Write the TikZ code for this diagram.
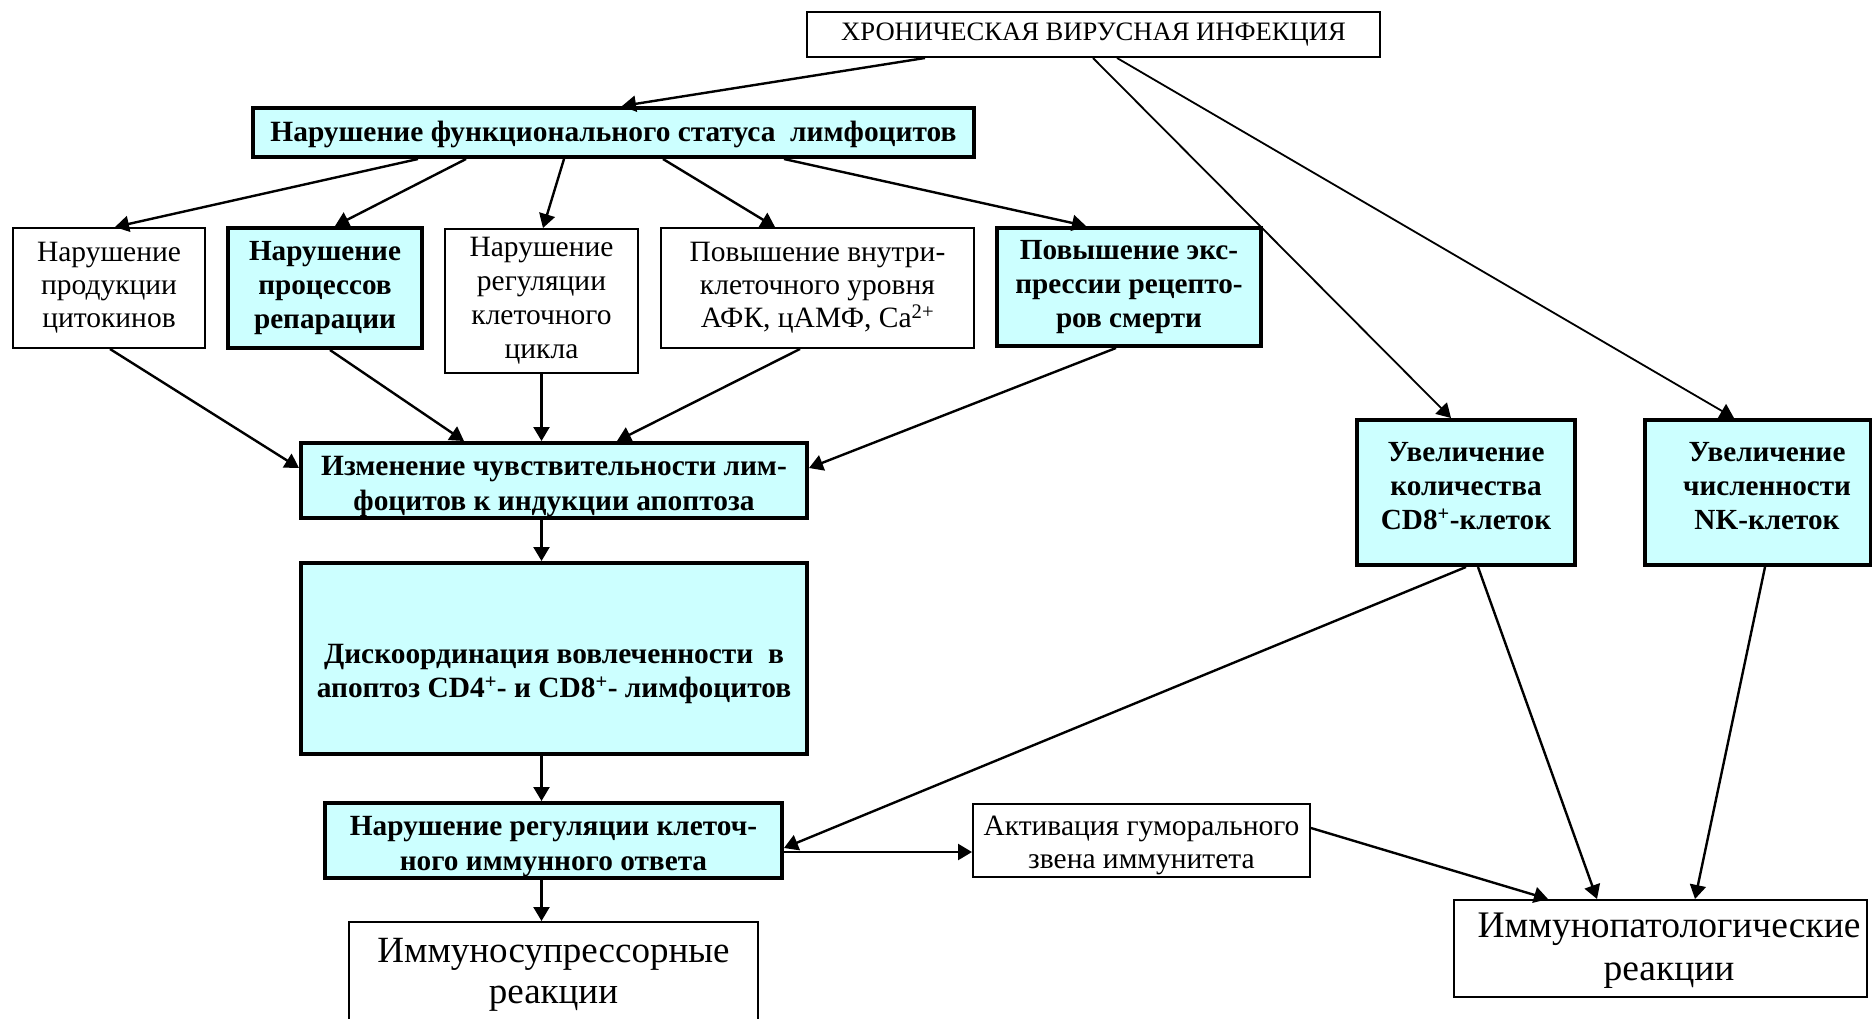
\documentclass[tikz,border=0pt]{standalone}
\usepackage{fontspec}
\setmainfont{Liberation Serif}
\usetikzlibrary{arrows.meta}
\definecolor{cyanbox}{HTML}{CCFFFF}
\tikzset{
  box/.style={draw, line width=2pt, fill=white, align=center, inner sep=0pt},
  boldbox/.style={box, line width=4pt, fill=cyanbox, font=\bfseries},
  arr/.style={-{Triangle[length=14pt,width=16pt]}, line width=2.4pt},
  longarr/.style={arr, line width=1.8pt},
  plain/.style={align=center, inner sep=0pt}
}
\newcommand{\fs}[2]{\fontsize{#1}{#2}\selectfont}
\begin{document}
\begin{tikzpicture}[x=1pt,y=-1pt]
\useasboundingbox (0,0) rectangle (1872,1018);
% boxes
\node[box, minimum width=573pt, minimum height=45pt, font=\fs{26.6}{30}] (top) at (1093.5,34.5) {ХРОНИЧЕСКАЯ ВИРУСНАЯ ИНФЕКЦИЯ};
\node[boldbox, minimum width=721pt, minimum height=49pt] (main) at (613.5,132.5) {};
\node[plain, font=\fs{29.4}{32}\bfseries] (maintext) at (613.5,134.5) {Нарушение функционального статуса\ \ лимфоцитов};
\node[box, minimum width=192pt, minimum height=120pt, font=\fs{29.5}{33}] (b1) at (109,288) {Нарушение\\продукции\\цитокинов};
\node[boldbox, minimum width=194pt, minimum height=120pt, font=\fs{29.2}{34}\bfseries] (b2) at (325,288) {Нарушение\\процессов\\репарации};
\node[box, minimum width=193pt, minimum height=144pt, font=\fs{29.5}{34}] (b3) at (541.5,301) {Нарушение\\регуляции\\клеточного\\цикла};
\node[box, minimum width=313pt, minimum height=120pt, font=\fs{29.5}{33}] (b4) at (817.5,288) {Повышение внутри-\\клеточного уровня\\АФК, цАМФ, Ca\textsuperscript{2+}};
\node[boldbox, minimum width=264pt, minimum height=118pt, font=\fs{29.2}{34}\bfseries] (b5) at (1129,287) {Повышение экс-\\прессии рецепто-\\ров смерти};
\node[boldbox, minimum width=506pt, minimum height=75pt] (izm) at (554,480.5) {};
\node[plain, font=\fs{29.4}{35}\bfseries] (izmtext) at (554,487) {Изменение чувствительности лим-\\фоцитов к индукции апоптоза};
\node[boldbox, minimum width=506pt, minimum height=191pt] (disk) at (554,658.5) {};
\node[plain, font=\fs{29.4}{34}\bfseries] (disktext) at (554,674) {Дискоординация вовлеченности\ \ в\\апоптоз CD4\textsuperscript{+}- и CD8\textsuperscript{+}- лимфоцитов};
\node[boldbox, minimum width=457pt, minimum height=75pt] (nreg) at (553.5,840.5) {};
\node[plain, font=\fs{29.3}{35}\bfseries] (nregtext) at (553.5,847) {Нарушение регуляции клеточ-\\ного иммунного ответа};
\node[box, minimum width=409pt, minimum height=106pt, anchor=north, font=\fs{37}{41}] (isup) at (553.5,921) {Иммуносупрессорные\\реакции};
\node[boldbox, minimum width=218pt, minimum height=145pt] (cd8) at (1466,492.5) {};
\node[plain, font=\fs{29.2}{34}\bfseries] (cd8text) at (1466,486) {Увеличение\\количества\\CD8\textsuperscript{+}-клеток};
\node[boldbox, minimum width=226pt, minimum height=145pt] (nk) at (1758,492.5) {};
\node[plain, font=\fs{29.2}{34}\bfseries] (nktext) at (1767,486) {Увеличение\\численности\\NK-клеток};
\node[box, minimum width=337pt, minimum height=73pt] (akt) at (1141.5,840.5) {};
\node[plain, font=\fs{29.5}{33}] (akttext) at (1141.5,845) {Активация гуморального\\звена иммунитета};
\node[box, minimum width=413pt, minimum height=97pt] (ipat) at (1660.5,948.5) {};
\node[plain, font=\fs{37.5}{43}] (ipattext) at (1669,951) {Иммунопатологические\\реакции};
% connectors
\draw[arr] (top.south -| 925,0) -- (main.north -| 622,0);
\draw[arr] (main.south -| 418,0) -- (b1.north -| 115,0);
\draw[arr] (main.south -| 466,0) -- (b2.north -| 335,0);
\draw[arr] (main.south -| 564,0) -- (b3.north -| 543,0);
\draw[arr] (main.south -| 663,0) -- (b4.north -| 775,0);
\draw[arr] (main.south -| 784,0) -- (b5.north -| 1086,0);
\draw[arr] (b1.south -| 110,0) -- (izm.west |- 0,468);
\draw[arr] (b2.south -| 330,0) -- (izm.north -| 464,0);
\draw[arr] (b3.south) -- (izm.north -| b3.south);
\draw[arr] (b4.south -| 800,0) -- (izm.north -| 617,0);
\draw[arr] (b5.south -| 1116,0) -- (izm.east |- 0,468);
\draw[arr] (izm.south -| b3.south) -- (disk.north -| b3.south);
\draw[arr] (disk.south -| b3.south) -- (nreg.north -| b3.south);
\draw[arr] (nreg.south -| b3.south) -- (isup.north -| b3.south);
\draw[arr] (nreg.east |- 0,852) -- (akt.west |- 0,852);
\draw[arr] (cd8.south -| 1466,0) -- (nreg.east |- 0,848);
\draw[arr] (cd8.south -| 1478,0) -- (ipat.north -| 1597,0);
\draw[arr] (nk.south -| 1765,0) -- (ipat.north -| 1695,0);
\draw[arr] (akt.east |- 0,828) -- (ipat.north -| 1548,0);
\draw[longarr] (top.south -| 1093,0) -- (cd8.north -| 1451,0);
\draw[longarr] (top.south -| 1117,0) -- (nk.north -| 1734,0);
\end{tikzpicture}
\end{document}
